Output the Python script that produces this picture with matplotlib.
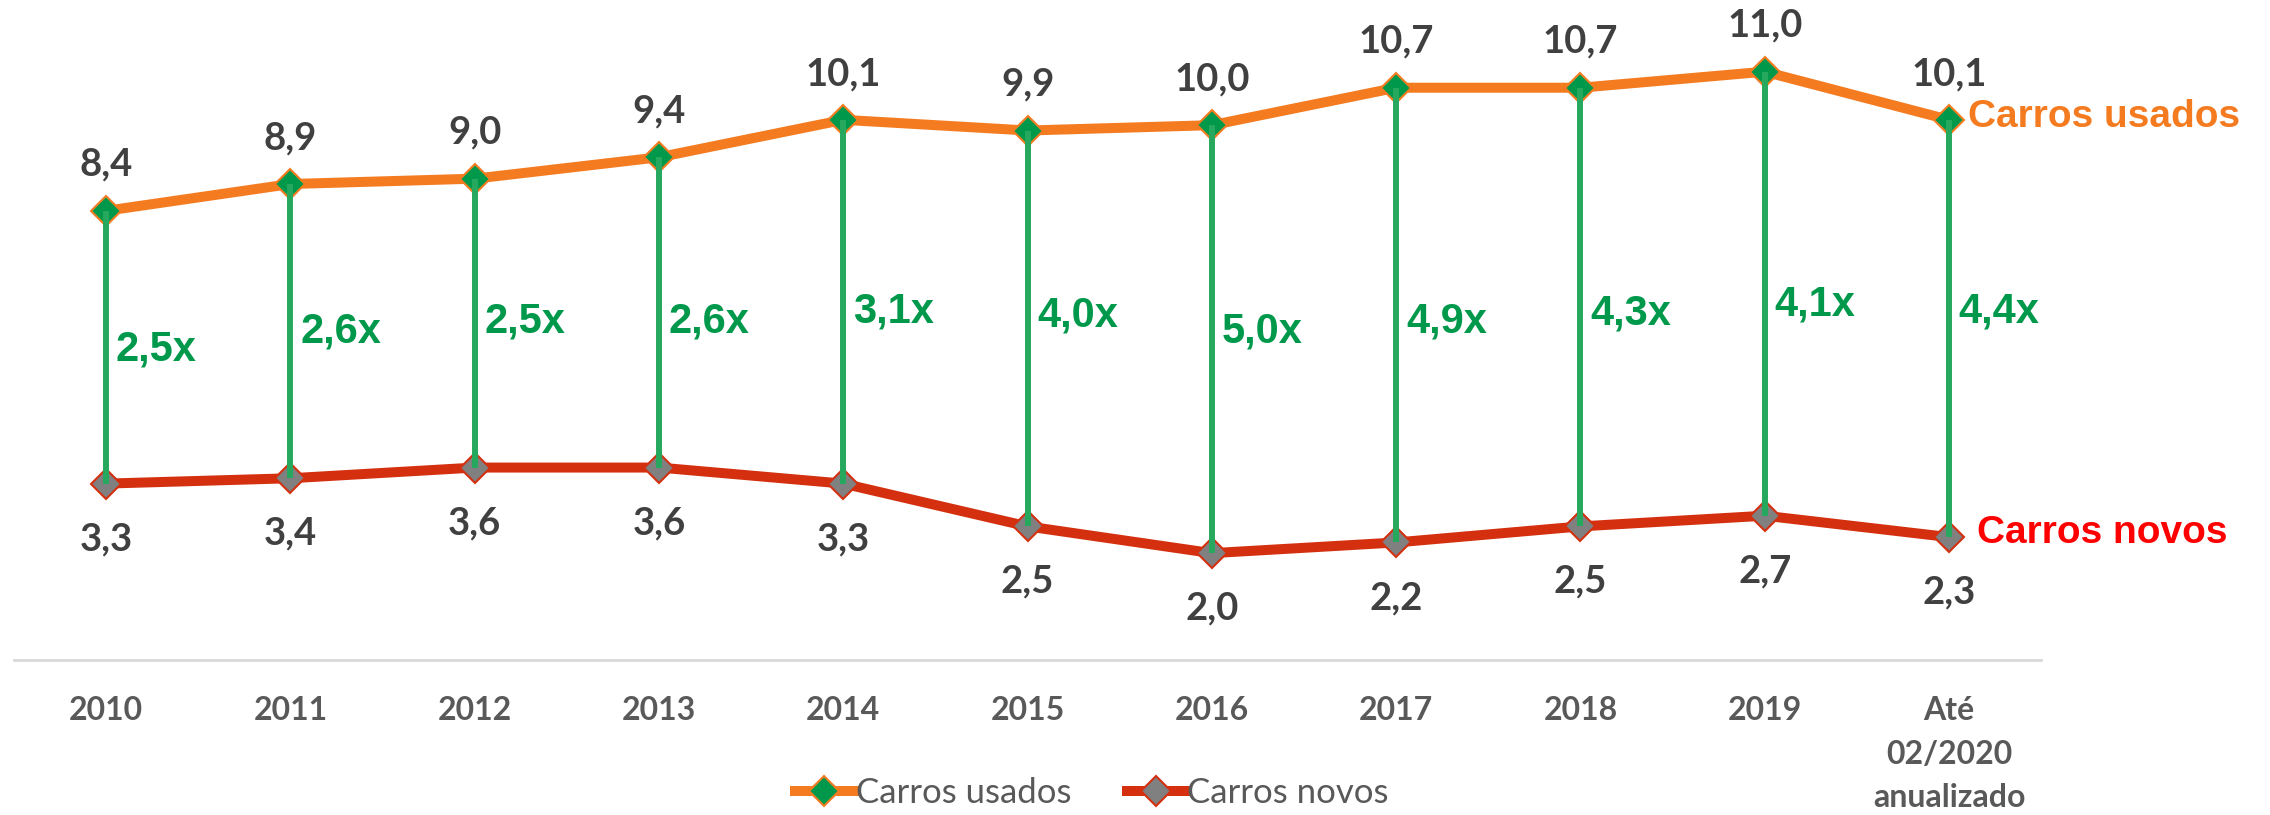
import matplotlib.pyplot as plt

anos = ['2010', '2011', '2012', '2013', '2014', '2015', '2016', '2017', '2018', '2019',
        'Até\n02/2020\nanualizado']
usados = [8.4, 8.9, 9.0, 9.4, 10.1, 9.9, 10.0, 10.7, 10.7, 11.0, 10.1]
novos = [3.3, 3.4, 3.6, 3.6, 3.3, 2.5, 2.0, 2.2, 2.5, 2.7, 2.3]
razao = [2.5, 2.6, 2.5, 2.6, 3.1, 4.0, 5.0, 4.9, 4.3, 4.1, 4.4]

# altura (em unidades do eixo) onde cada rotulo "x" foi colocado
y_razao = [5.79, 6.11, 6.30, 6.30, 6.50, 6.41, 6.11, 6.30, 6.45, 6.62, 6.50]

laranja = '#F47B20'
vermelho = '#D4300F'
verde_linha = '#27A85F'
verde = '#00994C'
cinza_txt = '#404040'

def fmt(v):
    return ('%.1f' % v).replace('.', ',')

fig = plt.figure(figsize=(22.7, 8.15), dpi=100)
ax = fig.add_axes([0.0062, 0.190, 0.893, 0.7877])

x = list(range(len(anos)))

ax.plot(x, usados, color=laranja, lw=7.2, marker='D', markersize=15,
        markerfacecolor=verde, markeredgecolor=laranja, markeredgewidth=1.5,
        label='Carros usados', zorder=3)
ax.plot(x, novos, color=vermelho, lw=7.2, marker='D', markersize=15,
        markerfacecolor='#808080', markeredgecolor=vermelho, markeredgewidth=1.5,
        label='Carros novos', zorder=3)

# linhas verticais entre as series
ax.vlines(x, novos, usados, color=verde_linha, lw=4.3, zorder=4)

for i in x:
    ax.annotate(fmt(usados[i]), (i, usados[i]), xytext=(0, 33), textcoords='offset points',
                ha='center', va='center', fontsize=27.5, fontweight='bold',
                family='Lato', color=cinza_txt)
    ax.annotate(fmt(novos[i]), (i, novos[i]), xytext=(0, -40), textcoords='offset points',
                ha='center', va='center', fontsize=27.5, fontweight='bold',
                family='Lato', color=cinza_txt)
    ax.annotate(fmt(razao[i]) + 'x', (i, y_razao[i]), xytext=(7, 1), textcoords='offset points',
                ha='left', va='center', fontsize=30, fontweight='bold',
                family='Liberation Sans', color=verde)

ax.annotate('Carros usados', (x[-1], usados[-1]), xytext=(14, 2), textcoords='offset points',
            ha='left', va='center', fontsize=28, fontweight='bold',
            family='Liberation Sans', color=laranja, annotation_clip=False)
ax.annotate('Carros novos', (x[-1], novos[-1]), xytext=(20, 3), textcoords='offset points',
            ha='left', va='center', fontsize=28, fontweight='bold',
            family='Liberation Sans', color='#FF0000', annotation_clip=False)

ax.set_xlim(-0.5, len(anos) - 0.5)
ax.set_ylim(0, 12)
ax.set_xticks(x)
ax.set_xticklabels(anos, fontsize=23, fontweight='bold', family='Lato', color='#595959',
                   linespacing=1.6)
ax.tick_params(axis='x', length=0, pad=26)
ax.set_yticks([])
for s in ['top', 'left', 'right']:
    ax.spines[s].set_visible(False)
ax.spines['bottom'].set_color('#D9D9D9')
ax.spines['bottom'].set_linewidth(2)

leg = fig.legend(loc='center', bbox_to_anchor=(0.481, 0.027), ncol=2, frameon=False,
                 prop={'family': 'Lato', 'size': 25}, handlelength=1.7, handletextpad=0.05,
                 columnspacing=1.6)
for t in leg.get_texts():
    t.set_color('#595959')

plt.savefig('out.png', dpi=100)
